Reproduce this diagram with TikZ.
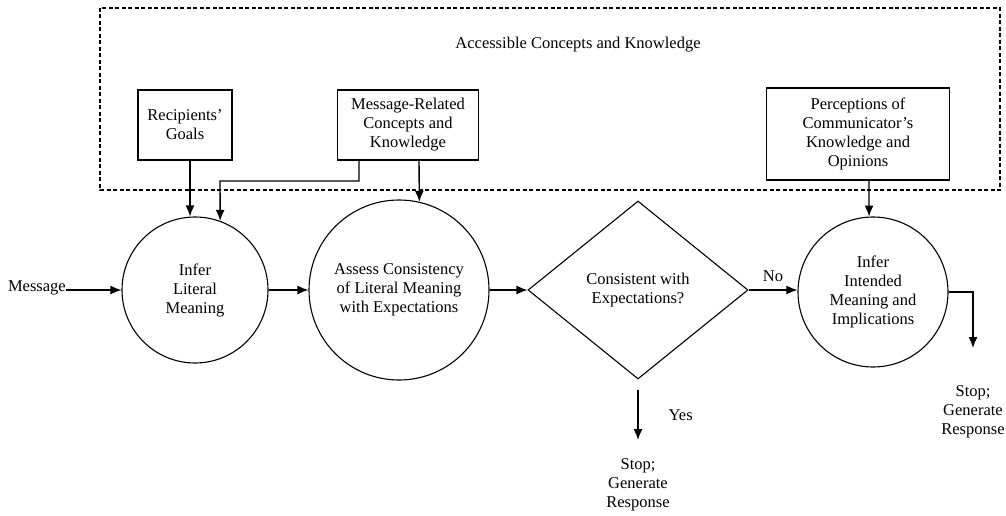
\documentclass[tikz,border=0pt]{standalone}
\usepackage{fontspec}
\setmainfont{Liberation Serif}
\usetikzlibrary{shapes.geometric,arrows.meta,calc}

\begin{document}
\begin{tikzpicture}[x=1pt, y=-1pt, font=\fontsize{16.5}{19}\selectfont,
  every node/.style={align=center, inner sep=2pt},
  kbox/.style={draw, line width=1.8pt, inner sep=4pt},
  proc/.style={draw, circle, line width=1.1pt, inner sep=0pt},
  arr/.style={-{Latex[length=11pt,width=9pt]}, line width=1.4pt}]

\useasboundingbox (0,0) rectangle (1006,516);

\draw[dashed, line width=1.2pt, dash pattern=on 4pt off 2.5pt] (100,8) rectangle (1000,190);
\node (acc) at (578,45) {Accessible Concepts and Knowledge};

\node[kbox, minimum width=94pt, minimum height=70pt] (goals) at (185,125) {Recipients'\\Goals};
\node[kbox, minimum width=141pt, minimum height=70pt] (mrk) at (408,125) {Message-Related\\Concepts and\\Knowledge};
\node[kbox, minimum width=183pt, minimum height=92pt] (perc) at (858,134) {Perceptions of\\Communicator's\\Knowledge and\\Opinions};

\node[proc, minimum size=146pt] (lit) at (195,290) {Infer\\Literal\\Meaning};
\node[proc, minimum size=180pt] (cons) at (399,290) {Assess Consistency\\of Literal Meaning\\with Expectations};
\node[draw, diamond, line width=1.1pt, minimum width=220pt, minimum height=178pt, inner sep=0pt] (dec) at (638,290) {Consistent with\\Expectations?};
\node[proc, minimum size=150pt] (imp) at (873,292) {Infer\\Intended\\Meaning and\\Implications};

\node[anchor=east, inner sep=0pt] (msg) at (66,288) {Message};
\node (stopa) at (638,485) {Stop;\\Generate\\Response};
\node (stopb) at (973,412) {Stop;\\Generate\\Response};

\coordinate (yesend) at (638,440);
\coordinate (rtend) at (973,348);

\draw[arr] (66,290) -- (lit.west);
\draw[arr] (goals.south -| 190,0) -- (lit.north -| 190,0);
\draw[arr] ([xshift=-49pt]mrk.south) |- (220,181) -- (lit.70);
\draw[arr] ([xshift=11pt]mrk.south) -- (cons.77);
\draw[arr] (perc.south -| 869,0) -- (imp.93);
\draw[arr] (lit.east) -- (cons.west);
\draw[arr] (cons.east) -- (dec.west);
\draw[arr] (dec.east) -- node[above=6pt] (no) {No} (imp.west |- dec.east);
\draw[arr] ([yshift=-10pt]dec.south) -- node[right=28pt] (yes) {Yes} (yesend);
\draw[arr] (imp.east) -| (rtend);
\end{tikzpicture}
\end{document}
